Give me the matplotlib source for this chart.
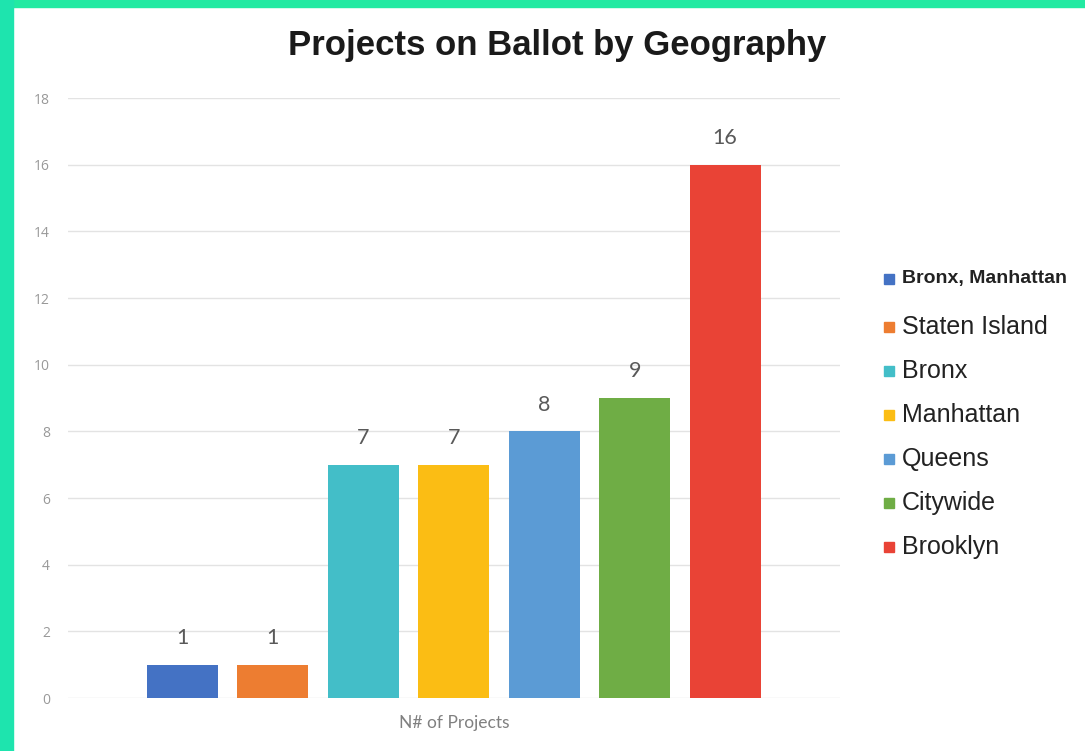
import matplotlib.pyplot as plt
from matplotlib.patches import Rectangle

plt.rcParams['font.family'] = ['Liberation Sans', 'DejaVu Sans']

geographies = ['Bronx, Manhattan', 'Staten Island', 'Bronx', 'Manhattan', 'Queens', 'Citywide', 'Brooklyn']
projects = [1, 1, 7, 7, 8, 9, 16]
colors = ['#4472C4', '#ED7D31', '#43BEC8', '#FBBD14', '#5B9BD5', '#6FAD45', '#E94336']
yticks = list(range(0, 19, 2))

W, H = 1085, 751
fig = plt.figure(figsize=(W / 100, H / 100), dpi=100)
fig.patch.set_facecolor('white')

# green frame on top and left edge
fig.patches.append(Rectangle((0, 1 - 7 / H), 1, 7 / H, transform=fig.transFigure,
                             color='#22EAA2', zorder=0))
fig.patches.append(Rectangle((0, 0), 13 / W, 1, transform=fig.transFigure,
                             color='#1EE4AE', zorder=0))

ax = fig.add_axes([68 / W, 1 - 698 / H, (840 - 68) / W, 600 / H])

x = list(range(len(projects)))
bars = ax.bar(x, projects, width=0.785, color=colors, zorder=3)
for b, v in zip(bars, projects):
    ax.text(b.get_x() + b.get_width() / 2, v + 0.8, str(v), ha='center', va='center',
            fontsize=15.5, color='#595959', family=['Lato', 'DejaVu Sans'])

ax.set_xlim(-1.265, 7.27)
ax.set_ylim(0, 18)
ax.set_yticks(yticks)
ax.set_yticklabels([str(t) for t in yticks], fontsize=10, color='#999999',
                   family=['Open Sans', 'DejaVu Sans'])
ax.set_xticks([])
ax.tick_params(axis='y', length=0, pad=13)
ax.grid(axis='y', color='#e3e3e3', linewidth=1, zorder=0)
for s in ax.spines.values():
    s.set_visible(False)

ax.set_xlabel('N# of Projects', fontsize=12.5, color='#808080', labelpad=12,
              family=['Lato', 'DejaVu Sans'])

fig.text(557 / W, 1 - 46 / H, 'Projects on Ballot by Geography', ha='center', va='center',
         fontsize=25, fontweight='bold', color='#1a1a1a')

# legend, drawn by hand to match the row spacing
for i, (name, c) in enumerate(zip(geographies, colors)):
    yc = 279 if i == 0 else 327 + 44 * (i - 1)
    fig.patches.append(Rectangle((884 / W, 1 - (yc + 5) / H), 10 / W, 10 / H,
                                 transform=fig.transFigure, color=c))
    if i == 0:
        fig.text(902 / W, 1 - yc / H, name, ha='left', va='center', fontsize=14,
                 fontweight='bold', color='#222222')
    else:
        fig.text(902 / W, 1 - yc / H, name, ha='left', va='center', fontsize=18,
                 color='#222222')

fig.savefig('out.png', dpi=100)
